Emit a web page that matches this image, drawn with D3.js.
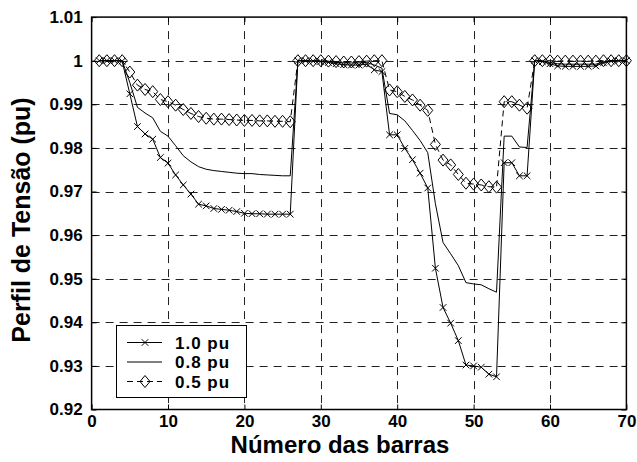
<!DOCTYPE html>
<html>
<head>
<meta charset="utf-8">
<script src="https://cdn.jsdelivr.net/npm/d3@7"></script>
<style>
  html, body { margin: 0; padding: 0; background: #fff; }
  svg { display: block; }
  text { font-family: "Liberation Sans", Arial, Helvetica, sans-serif; font-weight: bold; fill: #000; }
</style>
</head>
<body>
<svg id="chart" width="637" height="462"></svg>
<script>
// ---- data ----
const buses = [1,2,3,4,5,6,7,8,9,10,11,12,13,14,15,16,17,18,19,20,21,22,23,24,25,26,27,28,29,30,
  31,32,33,34,35,36,37,38,39,40,41,42,43,44,45,46,47,48,49,50,51,52,53,54,55,56,57,58,59,60,
  61,62,63,64,65,66,67,68,69,70];

const v10 = [1.0000,1.0000,1.0000,0.9999,0.9924,0.9849,0.9832,0.9820,0.9778,0.9765,
  0.9738,0.9715,0.9694,0.9671,0.9667,0.9661,0.9659,0.9657,0.9654,0.9650,
  0.9649,0.9649,0.9648,0.9648,0.9648,0.9648,1.0000,1.0000,0.9999,0.9998,
  0.9996,0.9993,0.9991,0.9990,0.9990,0.9992,0.9979,0.9975,0.9830,0.9830,
  0.9799,0.9773,0.9742,0.9708,0.9524,0.9434,0.9398,0.9358,0.9302,0.9300,
  0.9297,0.9281,0.9275,0.9766,0.9766,0.9736,0.9736,1.0000,0.9998,0.9993,
  0.9988,0.9987,0.9987,0.9987,0.9987,0.9988,0.9995,0.9999,1.0000,1.0000];

const v08 = [1.0000,1.0000,1.0000,1.0000,0.9950,0.9893,0.9880,0.9869,0.9838,0.9827,
  0.9805,0.9782,0.9768,0.9757,0.9751,0.9748,0.9746,0.9744,0.9742,0.9741,
  0.9741,0.9739,0.9738,0.9737,0.9736,0.9736,1.0000,1.0000,0.9999,0.9999,
  0.9998,0.9996,0.9995,0.9995,0.9995,0.9996,0.9990,0.9983,0.9879,0.9876,
  0.9862,0.9840,0.9817,0.9789,0.9672,0.9583,0.9557,0.9530,0.9491,0.9488,
  0.9486,0.9477,0.9469,0.9827,0.9827,0.9802,0.9801,1.0000,0.9999,0.9996,
  0.9993,0.9992,0.9992,0.9992,0.9992,0.9992,0.9997,1.0000,1.0000,1.0000];

const v05 = [1.0000,1.0000,1.0000,1.0000,0.9974,0.9944,0.9934,0.9929,0.9911,0.9906,
  0.9898,0.9888,0.9879,0.9872,0.9868,0.9866,0.9866,0.9865,0.9864,0.9863,
  0.9863,0.9862,0.9862,0.9861,0.9861,0.9860,1.0000,1.0000,1.0000,1.0000,
  0.9999,0.9998,0.9997,0.9997,0.9998,0.9999,1.0000,1.0000,0.9933,0.9929,
  0.9918,0.9910,0.9898,0.9886,0.9808,0.9772,0.9761,0.9739,0.9719,0.9717,
  0.9715,0.9711,0.9710,0.9906,0.9906,0.9898,0.9891,1.0000,1.0000,1.0000,
  0.9999,0.9999,0.9999,0.9999,0.9999,0.9999,1.0000,1.0000,1.0000,1.0000];

const seriesNames = ["1.0 pu", "0.8 pu", "0.5 pu"];
const xTicks = [0,10,20,30,40,50,60,70];
const yTicks = [0.92,0.93,0.94,0.95,0.96,0.97,0.98,0.99,1.00,1.01];
const yTickLabels = ["0.92","0.93","0.94","0.95","0.96","0.97","0.98","0.99","1","1.01"];
const xTitle = "Número das barras";
const yTitle = "Perfil de Tensão (pu)";

// ---- layout ----
const L = 91.6, R = 626.4, T = 17.1, B = 409.5;
const svg = d3.select("#chart");
svg.append("rect").attr("width", 637).attr("height", 462).attr("fill", "#fff");

const x = d3.scaleLinear().domain([0, 70]).range([L, R]);
const y = d3.scaleLinear().domain([0.92, 1.01]).range([B, T]);

// grid
const grid = svg.append("g").attr("stroke", "#222").attr("stroke-width", 1).attr("stroke-dasharray", "8,6");
grid.selectAll("line.v").data(xTicks.filter(t => t > 0 && t < 70)).join("line")
  .attr("x1", d => Math.round(x(d)) + 0.5).attr("x2", d => Math.round(x(d)) + 0.5)
  .attr("y1", T).attr("y2", B);
grid.selectAll("line.h").data(yTicks.filter(t => t > 0.92 && t < 1.01)).join("line")
  .attr("y1", d => Math.round(y(d)) + 0.5).attr("y2", d => Math.round(y(d)) + 0.5)
  .attr("x1", L).attr("x2", R);

// axes (ticks inward on all sides)
const tl = 5;
const axB = svg.append("g").attr("transform", `translate(0,${B})`)
  .call(d3.axisBottom(x).tickValues(xTicks).tickSize(-tl).tickSizeOuter(0).tickPadding(4.8));
const axT = svg.append("g").attr("transform", `translate(0,${T})`)
  .call(d3.axisTop(x).tickValues(xTicks).tickSize(-tl).tickSizeOuter(0).tickFormat(""));
const axLf = svg.append("g").attr("transform", `translate(${L},0)`)
  .call(d3.axisLeft(y).tickValues(yTicks).tickSize(-tl).tickSizeOuter(0).tickPadding(9)
    .tickFormat((d, i) => yTickLabels[i]));
const axRt = svg.append("g").attr("transform", `translate(${R},0)`)
  .call(d3.axisRight(y).tickValues(yTicks).tickSize(-tl).tickSizeOuter(0).tickFormat(""));
[axB, axT, axLf, axRt].forEach(g => {
  g.select(".domain").remove();
  g.selectAll("line").attr("stroke", "#000").attr("stroke-width", 1);
  g.selectAll("text").attr("font-size", 17).attr("font-family", null).attr("fill", "#000");
});
axB.selectAll("text").attr("dy", "0.72em");

// frame
svg.append("rect").attr("x", L).attr("y", T).attr("width", R - L).attr("height", B - T)
  .attr("fill", "none").attr("stroke", "#000").attr("stroke-width", 1.5);

// series
const line = d3.line().x(d => x(d[0])).y(d => y(d[1]));
const d10 = buses.map((b, i) => [b, v10[i]]);
const d08 = buses.map((b, i) => [b, v08[i]]);
const d05 = buses.map((b, i) => [b, v05[i]]);

const plot = svg.append("g");
plot.append("path").datum(d08).attr("d", line).attr("fill", "none").attr("stroke", "#000").attr("stroke-width", 1);
plot.append("path").datum(d10).attr("d", line).attr("fill", "none").attr("stroke", "#000").attr("stroke-width", 1);
plot.append("path").datum(d05).attr("d", line).attr("fill", "none").attr("stroke", "#000").attr("stroke-width", 1)
  .attr("stroke-dasharray", "6,4");

const xm = 3.3; // x-marker half size
function xMarker(g, cx, cy) {
  g.append("path").attr("d", `M${cx - xm},${cy - xm}L${cx + xm},${cy + xm}M${cx - xm},${cy + xm}L${cx + xm},${cy - xm}`)
    .attr("stroke", "#000").attr("stroke-width", 1).attr("fill", "none");
}
const dw = 5, dh = 6; // diamond half sizes
function diamond(g, cx, cy) {
  g.append("path").attr("d", `M${cx},${cy - dh}L${cx + dw},${cy}L${cx},${cy + dh}L${cx - dw},${cy}Z`)
    .attr("stroke", "#000").attr("stroke-width", 1).attr("fill", "none");
}
const mk = svg.append("g");
d10.forEach(d => xMarker(mk, x(d[0]), y(d[1])));
d05.forEach(d => diamond(mk, x(d[0]), y(d[1])));

// titles
svg.append("text").attr("x", 340).attr("y", 452.5).attr("text-anchor", "middle")
  .attr("font-size", 24).text(xTitle);
svg.append("text").attr("transform", "translate(30,220) rotate(-90)").attr("text-anchor", "middle")
  .attr("font-size", 25).text(yTitle);

// legend
const lg = svg.append("g");
lg.append("rect").attr("x", 116.5).attr("y", 325.5).attr("width", 130).attr("height", 72)
  .attr("fill", "#fff").attr("stroke", "#000").attr("stroke-width", 1);
const rowsY = [342.5, 362, 381.5];
const lx1 = 127, lx2 = 162, lmx = 145;
seriesNames.forEach((name, i) => {
  const ly = rowsY[i];
  const p = lg.append("line").attr("x1", lx1).attr("x2", lx2).attr("y1", ly).attr("y2", ly)
    .attr("stroke", "#000").attr("stroke-width", 1);
  if (i === 2) p.attr("stroke-dasharray", "6,4");
  if (i === 0) xMarker(lg, lmx, ly);
  if (i === 2) diamond(lg, lmx, ly);
  lg.append("text").attr("x", 175).attr("y", ly).attr("dy", "0.36em").attr("font-size", 17)
    .attr("letter-spacing", 1).text(name);
});
</script>
</body>
</html>
